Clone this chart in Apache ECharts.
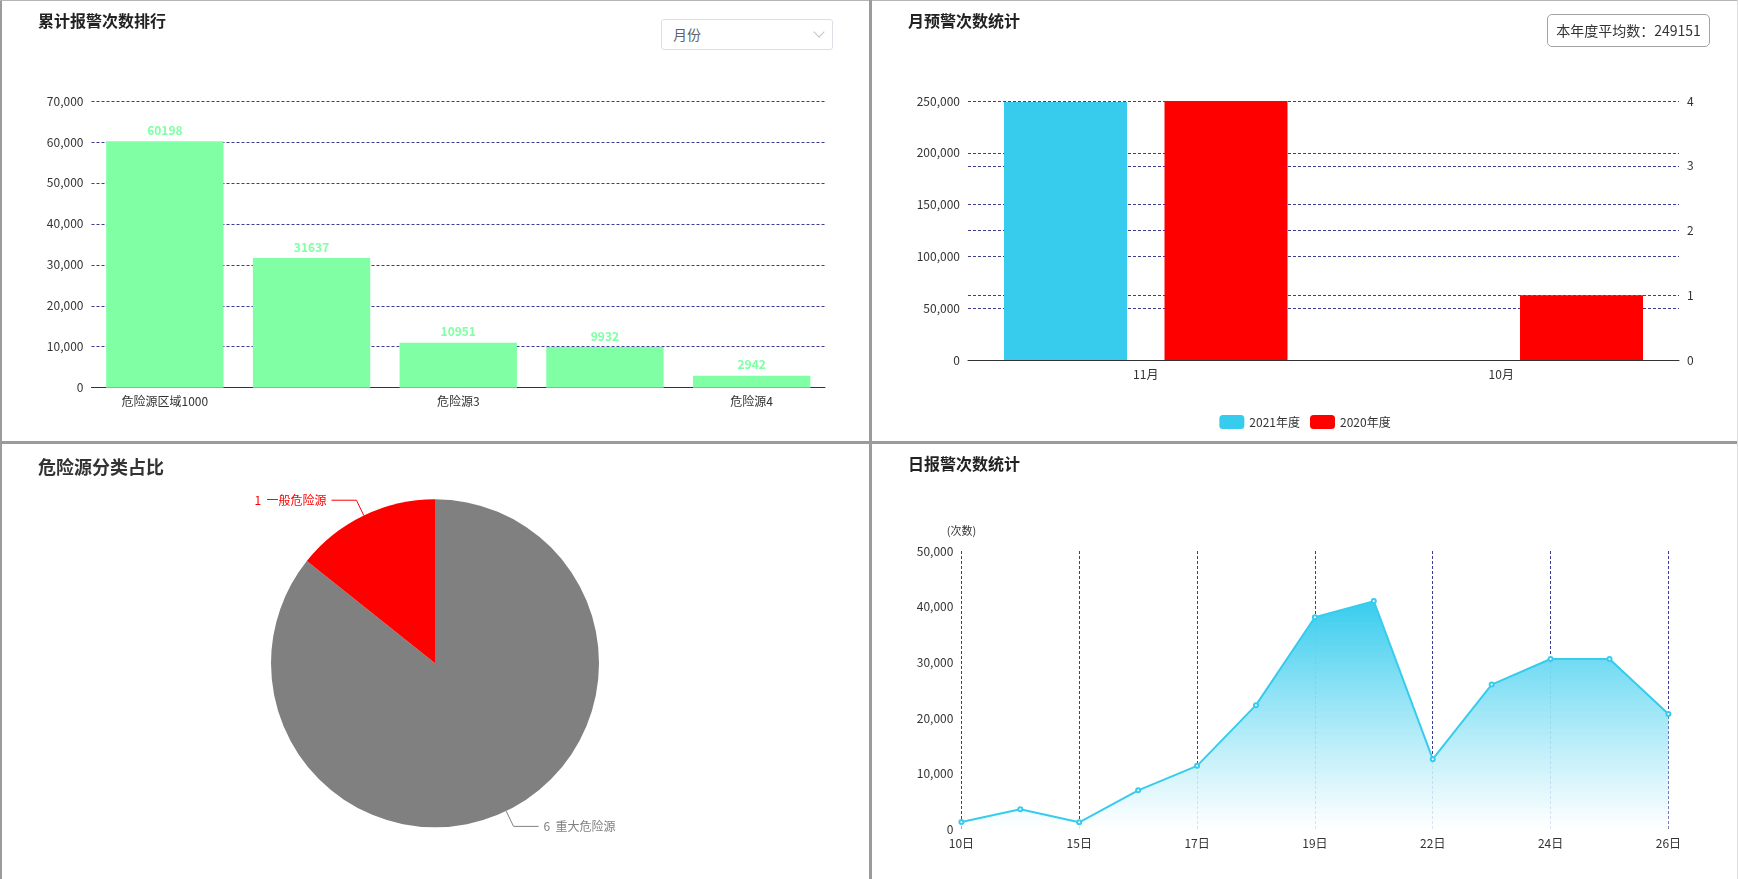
<!DOCTYPE html>
<html><head><meta charset="utf-8">
<script src="https://cdn.jsdelivr.net/npm/echarts@6/dist/echarts.min.js"></script>
<style>
html,body{margin:0;padding:0;width:1738px;height:879px;overflow:hidden;background:#fff;font-family:'Noto Sans CJK SC','Noto Sans',sans-serif;}
.c{position:absolute;}
.ln{position:absolute;background:#9b9b9b;z-index:5;}
#sel{position:absolute;left:661px;top:19px;width:170px;height:29px;border:1px solid #dcdfe6;border-radius:3px;background:#fff;z-index:6;box-sizing:content-box;}
#sel span{position:absolute;left:11px;top:0;line-height:29px;font-size:14px;color:#606266;}
#sel i{position:absolute;left:153px;top:8px;width:7px;height:7px;border-right:1px solid #c0c4cc;border-bottom:1px solid #c0c4cc;transform:rotate(45deg);}
#avg{position:absolute;left:1547px;top:14px;width:161px;height:31px;border:1px solid #a3a3a3;border-radius:5px;z-index:6;font-size:14px;color:#333;line-height:31px;text-align:center;box-sizing:content-box;}
</style></head><body>
<div id="c1" class="c" style="left:0;top:0;width:869px;height:441px"></div>
<div id="c2" class="c" style="left:872px;top:0;width:866px;height:441px"></div>
<div id="c3" class="c" style="left:0;top:444px;width:869px;height:435px"></div>
<div id="c4" class="c" style="left:872px;top:444px;width:866px;height:435px"></div>
<div class="ln" style="left:0;top:0;width:2px;height:879px"></div>
<div class="ln" style="left:0;top:0;width:1738px;height:1px;background:#b5b5b5"></div>
<div class="ln" style="left:869px;top:0;width:3px;height:879px"></div>
<div class="ln" style="left:0;top:441px;width:1738px;height:3px"></div>
<div class="ln" style="left:1737px;top:0;width:1px;height:879px;background:#dedede"></div>
<div id="sel"><span>月份</span><i></i></div>
<div id="avg"></div>
<script>
// ---- data ----
const rankNames = ['危险源区域1000', '危险源1', '危险源3', '危险源2', '危险源4'];
const rankValues = [60198, 31637, 10951, 9932, 2942];
const monthNames = ['11月', '10月'];
const avg2021 = 249151;
const alarms2021 = [249151, null];
const alarms2020 = [4, 1];
const legendNames = ['2021年度', '2020年度'];
const pieNames = ['重大危险源', '一般危险源'];
const pieValues = [6, 1];
const pieColors = ['#808080', '#ff0000'];
const dayLabels = ['10日', '14日', '15日', '16日', '17日', '18日', '19日', '20日', '22日', '23日', '24日', '25日', '26日'];
const dayValues = [1300, 3600, 1250, 7000, 11400, 22300, 38100, 41000, 12600, 26000, 30600, 30600, 20700];

document.getElementById('avg').textContent = '本年度平均数：' + avg2021;

const FONT = "'Noto Sans CJK SC','Noto Sans',sans-serif";
const GRID_COLOR = '#3d3d94';
const splitStyle = { show: true, lineStyle: { color: GRID_COLOR, type: [3, 2], width: 1 } };
const titleStyle = { fontSize: 16, fontWeight: 'bold', color: '#222', fontFamily: FONT };
const labelStyle = { color: '#333', fontSize: 12, fontFamily: FONT };

// chart 1
const ch1 = echarts.init(document.getElementById('c1'));
ch1.setOption({
  animation: false,
  textStyle: { fontFamily: FONT },
  title: { text: '累计报警次数排行', left: 33, top: 8, textStyle: titleStyle },
  grid: { left: 91.5, right: 44, top: 101, bottom: 53.3, containLabel: false },
  xAxis: {
    type: 'category', data: rankNames,
    axisLine: { lineStyle: { color: '#333' } }, axisTick: { show: false },
    axisLabel: Object.assign({ interval: 1, margin: 8 }, labelStyle)
  },
  yAxis: {
    type: 'value', min: 0, max: 70000, interval: 10000,
    axisLine: { show: false }, axisTick: { show: false },
    axisLabel: Object.assign({ margin: 8 }, labelStyle),
    splitLine: splitStyle
  },
  series: [{
    type: 'bar', data: rankValues, barWidth: '80%',
    itemStyle: { color: '#80ffa5' },
    label: { show: true, position: 'top', color: '#80ffa5', fontSize: 12, fontWeight: 'bold', fontFamily: FONT }
  }]
});

// chart 2
const ch2 = echarts.init(document.getElementById('c2'));
ch2.setOption({
  animation: false,
  textStyle: { fontFamily: FONT },
  title: { text: '月预警次数统计', left: 31, top: 8, textStyle: titleStyle },
  legend: {
    data: legendNames, left: 'center', top: 410, itemWidth: 25, itemHeight: 14, itemGap: 10,
    textStyle: labelStyle
  },
  grid: { left: 96, right: 59, top: 101, bottom: 81, containLabel: false },
  xAxis: {
    type: 'category', data: monthNames,
    axisLine: { lineStyle: { color: '#333' } }, axisTick: { show: false },
    axisLabel: labelStyle
  },
  yAxis: [{
    type: 'value', min: 0, max: 250000, interval: 50000,
    axisLine: { show: false }, axisTick: { show: false },
    axisLabel: labelStyle, splitLine: splitStyle
  }, {
    type: 'value', min: 0, max: 4, interval: 1, position: 'right',
    axisLine: { show: false }, axisTick: { show: false },
    axisLabel: labelStyle, splitLine: splitStyle
  }],
  series: [{
    name: legendNames[0], type: 'bar', data: alarms2021, yAxisIndex: 0,
    barWidth: '34.6%', barGap: '30.5%', itemStyle: { color: '#37ccee' }
  }, {
    name: legendNames[1], type: 'bar', data: alarms2020, yAxisIndex: 1,
    barWidth: '34.6%', barGap: '30.5%', itemStyle: { color: '#ff0000' }
  }]
});

// chart 3
const ch3 = echarts.init(document.getElementById('c3'));
ch3.setOption({
  animation: false,
  textStyle: { fontFamily: FONT },
  title: { text: '危险源分类占比', left: 33, top: 8.7, textStyle: { fontSize: 18, fontWeight: 'bold', color: '#333', fontFamily: FONT } },
  color: pieColors,
  series: [{
    type: 'pie', center: [435, 219.3], radius: 164,
    data: pieNames.map((n, i) => ({
      name: n, value: pieValues[i],
      itemStyle: { color: pieColors[i] },
      label: { color: pieColors[i] },
      labelLine: { lineStyle: { color: pieColors[i] } }
    })),
    label: { show: true, formatter: '{c}  {b}', fontSize: 12, fontFamily: FONT },
    labelLine: { show: true, length: 17, length2: 25 }
  }]
});

// chart 4
const ch4 = echarts.init(document.getElementById('c4'));
ch4.setOption({
  animation: false,
  textStyle: { fontFamily: FONT },
  title: { text: '日报警次数统计', left: 31, top: 7.3, textStyle: titleStyle },
  grid: { left: 89.4, right: 69.6, top: 107, bottom: 49.7, containLabel: false },
  xAxis: {
    type: 'category', data: dayLabels, boundaryGap: false,
    axisLine: { show: false }, axisTick: { show: false },
    axisLabel: Object.assign({ interval: 1 }, labelStyle),
    splitLine: { show: true, interval: 1, lineStyle: { color: GRID_COLOR, type: [3, 2], width: 1 } }
  },
  yAxis: {
    type: 'value', min: 0, max: 50000, interval: 10000, name: '(次数)',
    nameTextStyle: { color: '#333', fontSize: 11, fontFamily: FONT },
    axisLine: { show: false }, axisTick: { show: false },
    axisLabel: labelStyle, splitLine: { show: false }
  },
  series: [{
    type: 'line', data: dayValues, symbol: 'emptyCircle', symbolSize: 4,
    lineStyle: { color: '#37ccee', width: 2 }, itemStyle: { color: '#37ccee' },
    areaStyle: {
      opacity: 1,
      color: new echarts.graphic.LinearGradient(0, 0, 0, 1, [
        { offset: 0, color: 'rgba(55,204,238,1)' },
        { offset: 1, color: 'rgba(255,255,255,0.85)' }
      ])
    }
  }]
});
</script>
</body></html>
